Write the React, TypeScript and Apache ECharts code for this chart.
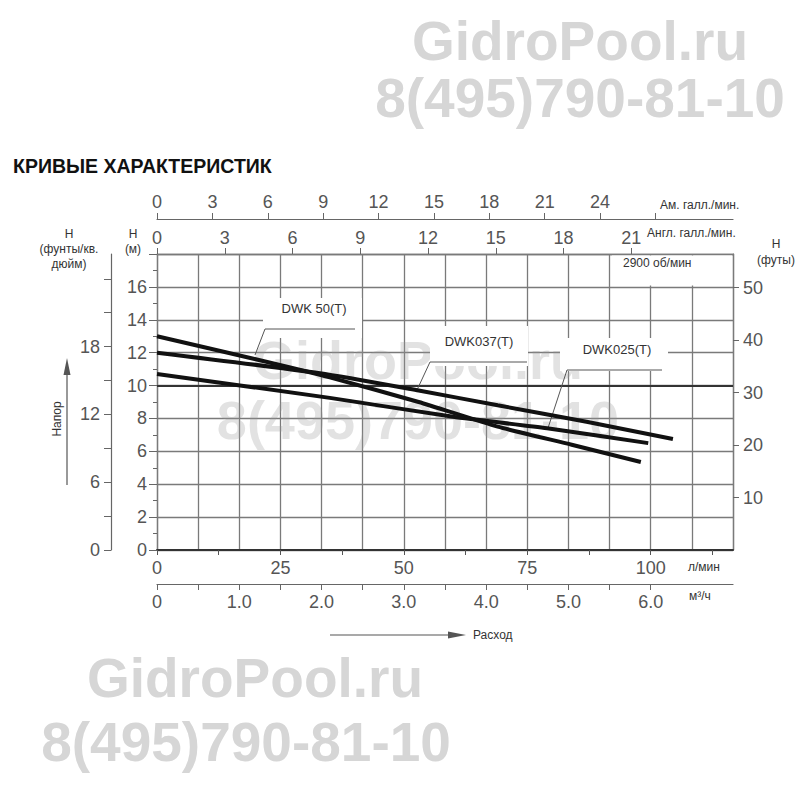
import React, { useEffect, useRef } from "react";
import * as echarts from "echarts";

// ---- data (flow in l/min, head in m) ----
const DWK50_FLOW = [0, 20, 35, 53, 69, 84, 98];
const DWK50_HEAD = [13.0, 11.6, 10.5, 9.0, 7.5, 6.4, 5.35];
const DWK037_FLOW = [0, 33, 53, 69, 87, 104.5];
const DWK037_HEAD = [12.0, 10.75, 9.7, 8.8, 7.8, 6.75];
const DWK025_FLOW = [0, 35, 60, 79, 99.5];
const DWK025_HEAD = [10.7, 9.25, 8.1, 7.4, 6.5];
const SERIES_NAMES = ["DWK 50(T)", "DWK037(T)", "DWK025(T)"];

// ---- axis ticks / labels ----
const LPM_TICKS = [0, 12.5, 25, 37.5, 50, 62.5, 75, 87.5, 100, 112.5];
const LPM_LABELS = [0, 25, 50, 75, 100];
const M3H_TICKS = [0, 0.5, 1, 1.5, 2, 2.5, 3, 3.5, 4, 4.5, 5, 5.5, 6];
const M3H_LABELS = [0, 1, 2, 3, 4, 5, 6];
const USGPM_TICKS = [0, 3, 6, 9, 12, 15, 18, 21, 24, 27];
const USGPM_LABELS = [0, 3, 6, 9, 12, 15, 18, 21, 24];
const IMPGPM_TICKS = [0, 3, 6, 9, 12, 15, 18, 21];
const PSI_TICKS = [0, 3, 6, 9, 12, 15, 18, 21, 24];
const PSI_LABELS = [0, 6, 12, 18];
const FT_TICKS = [10, 20, 30, 40, 50];
const REF_HEAD_M = 10;

const FONT = "'Liberation Sans', Arial, sans-serif";
const AX = "#555";
const GRIDC = "#7a7a7a";

function pair(xs: number[], ys: number[]) {
  return xs.map((x, i) => [x, ys[i]]);
}

function txt(x: number, y: number, text: string, size: number, align = "center", extra: any = {}) {
  return {
    type: "text",
    x,
    y,
    z: 4,
    style: {
      text,
      fill: "#333",
      fontSize: size,
      fontFamily: FONT,
      align,
      textAlign: align,
      verticalAlign: "middle",
      textVerticalAlign: "middle",
      ...extra,
    },
  };
}

export default function App() {
  const ref = useRef<HTMLDivElement>(null);
  useEffect(() => {
    if (!ref.current) return;
    const chart = echarts.init(ref.current, null, { renderer: "svg" });
    const tickLabel = { fontSize: 18, color: AX, fontFamily: FONT };
    const wmBig = { fontSize: 55, fontWeight: "bold", fill: "#d6d6d6" };
    const wmMid = { fontSize: 54, fontWeight: "bold", fill: "rgba(150,150,150,0.28)" };
    const line = (color: string, width: number) => ({ show: true, onZero: false, lineStyle: { color, width } });
    const option: any = {
      animation: false,
      backgroundColor: "#fff",
      textStyle: { fontFamily: FONT },
      grid: { left: 157, top: 254, width: 576, height: 296, containLabel: false },
      xAxis: [
        {
          type: "value",
          position: "bottom",
          min: 0,
          max: 700 / 6,
          axisLine: line("#333", 2),
          axisTick: { show: true, customValues: LPM_TICKS, length: 5, lineStyle: { color: AX } },
          axisLabel: { ...tickLabel, customValues: LPM_LABELS, margin: 9 },
          splitLine: { show: false },
        },
        {
          type: "value",
          position: "bottom",
          offset: 34,
          min: 0,
          max: 7,
          axisLine: line("#666", 1.2),
          axisTick: { show: true, customValues: M3H_TICKS, length: 6, lineStyle: { color: "#666" } },
          axisLabel: {
            ...tickLabel,
            customValues: M3H_LABELS,
            margin: 9,
            formatter: (v: number) => (v === 0 ? "0" : v.toFixed(1)),
          },
          splitLine: { show: false },
        },
        {
          type: "value",
          position: "bottom",
          min: 0,
          max: 7,
          interval: 0.5,
          axisLine: { show: false, onZero: false },
          axisTick: { show: false },
          axisLabel: { show: false },
          splitLine: { show: true, lineStyle: { color: GRIDC, width: 1.3 } },
        },
        {
          type: "value",
          position: "top",
          offset: 35,
          min: 0,
          max: 31.2,
          axisLine: line("#666", 1.2),
          axisTick: { show: true, customValues: USGPM_TICKS, length: 6, lineStyle: { color: "#666" } },
          axisLabel: { ...tickLabel, customValues: USGPM_LABELS, margin: 8 },
          splitLine: { show: false },
        },
        {
          type: "value",
          position: "top",
          min: 0,
          max: 25.5,
          axisLine: line(GRIDC, 1.3),
          axisTick: { show: true, customValues: IMPGPM_TICKS, length: 6, lineStyle: { color: "#666" } },
          axisLabel: { ...tickLabel, customValues: IMPGPM_TICKS, margin: 7 },
          splitLine: { show: false },
        },
      ],
      yAxis: [
        {
          type: "value",
          position: "left",
          min: 0,
          max: 18,
          interval: 2,
          axisLine: line(GRIDC, 1.3),
          axisTick: { show: true, length: 8, lineStyle: { color: "#666" } },
          minorTick: { show: true, splitNumber: 2, length: 4, lineStyle: { color: "#666" } },
          axisLabel: { ...tickLabel, margin: 10, formatter: (v: number) => (v >= 18 ? "" : String(v)) },
          splitLine: { show: true, lineStyle: { color: GRIDC, width: 1.3 } },
        },
        {
          type: "value",
          position: "left",
          offset: 46,
          min: 0,
          max: 26.2,
          axisLine: line("#666", 1.2),
          axisTick: { show: true, customValues: PSI_TICKS, length: 7, lineStyle: { color: "#666" } },
          axisLabel: { ...tickLabel, customValues: PSI_LABELS, margin: 11 },
          splitLine: { show: false },
        },
        {
          type: "value",
          position: "right",
          min: 0,
          max: 56.4,
          axisLine: line(GRIDC, 1.3),
          axisTick: { show: true, customValues: FT_TICKS, length: 6, lineStyle: { color: "#666" } },
          axisLabel: { ...tickLabel, customValues: FT_TICKS, margin: 10 },
          splitLine: { show: false },
        },
      ],
      series: [
        {
          name: SERIES_NAMES[0],
          type: "line",
          data: pair(DWK50_FLOW, DWK50_HEAD),
          smooth: 0.2,
          showSymbol: false,
          z: 5,
          lineStyle: { color: "#111", width: 4 },
          markLine: {
            silent: true,
            symbol: "none",
            z: 3,
            label: { show: false },
            lineStyle: { color: "#333", width: 2.2, type: "solid" },
            data: [{ yAxis: REF_HEAD_M }],
          },
        },
        {
          name: SERIES_NAMES[1],
          type: "line",
          data: pair(DWK037_FLOW, DWK037_HEAD),
          smooth: 0.2,
          showSymbol: false,
          z: 5,
          lineStyle: { color: "#111", width: 4 },
        },
        {
          name: SERIES_NAMES[2],
          type: "line",
          data: pair(DWK025_FLOW, DWK025_HEAD),
          smooth: 0.2,
          showSymbol: false,
          z: 5,
          lineStyle: { color: "#111", width: 4 },
        },
      ],
      graphic: [
        // watermarks
        txt(580, 41, "GidroPool.ru", 55, "center", wmBig),
        txt(580, 98, "8(495)790-81-10", 55, "center", wmBig),
        txt(255, 678, "GidroPool.ru", 55, "center", wmBig),
        txt(246, 742, "8(495)790-81-10", 55, "center", wmBig),
        { ...txt(418, 360, "GidroPool.ru", 54, "center", wmMid), z: 2 },
        { ...txt(418, 420, "8(495)790-81-10", 54, "center", wmMid), z: 2 },
        // title
        txt(13, 166, "КРИВЫЕ ХАРАКТЕРИСТИК", 19.5, "left", { fontWeight: "bold", fill: "#111" }),
        // label boxes
        { type: "rect", z: 3, shape: { x: 263, y: 298, width: 99, height: 40 }, style: { fill: "#fff" } },
        { type: "rect", z: 3, shape: { x: 430, y: 326, width: 98, height: 40 }, style: { fill: "#fff" } },
        { type: "rect", z: 3, shape: { x: 560, y: 338, width: 108, height: 33 }, style: { fill: "#fff" } },
        { type: "rect", z: 3, shape: { x: 612, y: 255.5, width: 120, height: 30 }, style: { fill: "#fff" } },
        // leaders
        { type: "polyline", z: 4, shape: { points: [[355, 329], [265, 329], [255, 355]] }, style: { stroke: "#555", lineWidth: 1, fill: null } },
        { type: "polyline", z: 4, shape: { points: [[527, 362], [430, 362], [417, 390]] }, style: { stroke: "#555", lineWidth: 1, fill: null } },
        { type: "polyline", z: 4, shape: { points: [[662, 370], [567, 370], [548, 428]] }, style: { stroke: "#555", lineWidth: 1, fill: null } },
        txt(314, 308, SERIES_NAMES[0], 13),
        txt(479, 341, SERIES_NAMES[1], 13),
        txt(617, 349, SERIES_NAMES[2], 13),
        txt(623, 263, "2900 об/мин", 12, "left"),
        // axis captions
        txt(660, 205, "Ам. галл./мин.", 12, "left"),
        txt(647, 233, "Англ. галл./мин.", 12, "left"),
        txt(69, 234, "H", 12),
        txt(69, 249, "(фунты/кв.", 12),
        txt(69, 264, "дюйм)", 12),
        txt(133, 234, "H", 12),
        txt(133, 249, "(м)", 12),
        txt(776, 244, "H", 12),
        txt(776, 260, "(футы)", 12),
        txt(688, 567, "л/мин", 12, "left"),
        txt(689, 596, "м³/ч", 12, "left"),
        // head arrow
        { type: "line", z: 4, shape: { x1: 67, y1: 485, x2: 67, y2: 372 }, style: { stroke: "#555", lineWidth: 1.2 } },
        { type: "polygon", z: 4, shape: { points: [[63.5, 375], [67, 358], [70.5, 375]] }, style: { fill: "#555" } },
        { ...txt(57, 419, "Напор", 12), rotation: Math.PI / 2 },
        // flow arrow
        { type: "line", z: 4, shape: { x1: 330, y1: 635, x2: 452, y2: 635 }, style: { stroke: "#555", lineWidth: 1.2 } },
        { type: "polygon", z: 4, shape: { points: [[448, 631.5], [466, 635], [448, 638.5]] }, style: { fill: "#555" } },
        txt(473, 635, "Расход", 12, "left"),
      ],
    };
    chart.setOption(option);
    return () => chart.dispose();
  }, []);
  return (
    <div
      ref={ref}
      style={{ position: "fixed", left: 0, top: 0, width: 800, height: 800, background: "#fff" }}
    />
  );
}
